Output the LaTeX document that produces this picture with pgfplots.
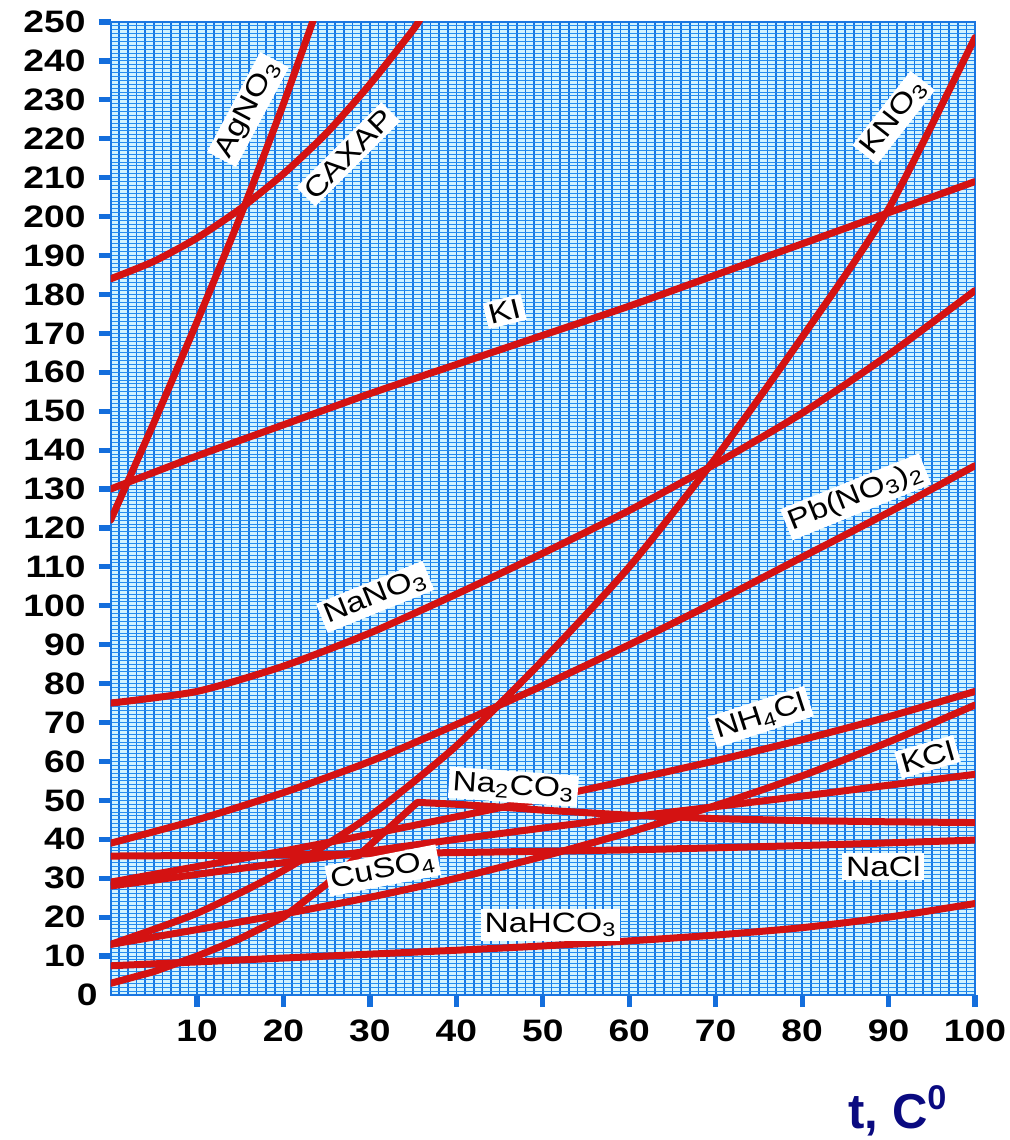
\documentclass[border=0pt]{standalone}
\usepackage{fontspec}
\setmainfont{Liberation Sans}
\usepackage{graphicx}
\usepackage{pgfplots}
\pgfplotsset{compat=1.18}

\definecolor{gridblue}{RGB}{25,118,225}
\definecolor{gridblue2}{RGB}{35,140,240}
\definecolor{paper}{RGB}{210,243,255}
\definecolor{curve}{RGB}{212,18,18}
\definecolor{tickblue}{RGB}{20,110,220}
\definecolor{navy}{RGB}{10,10,128}

\tikzset{lbl/.style={fill=white, inner sep=1.8pt, font=\fontsize{14}{16}\selectfont, text=black}}

\begin{document}
\begin{tikzpicture}
\begin{axis}[
  at={(0,0)}, anchor=south west,
  scale only axis, width=432.2pt, height=486.5pt,
  xmin=0, xmax=100, ymin=0, ymax=250,
  xtick={10,20,...,100}, ytick={10,20,...,250},
  xtick pos=bottom, ytick pos=left,
  extra y ticks={0}, extra y tick style={major tick length=0pt, grid=none},
  minor xtick={0,1,...,100}, minor ytick={0,1,...,250},
  grid=both,
  major x grid style={gridblue, line width=0.85pt},
  major y grid style={gridblue2, line width=0.5pt},
  minor x grid style={gridblue, line width=0.85pt},
  minor y grid style={gridblue2, line width=0.5pt},
  axis background/.style={fill=paper},
  tick align=outside, major tick length=6pt, minor tick length=0pt,
  every tick/.style={tickblue, line width=2.6pt},
  axis line style={gridblue, line width=1pt},
  /pgf/number format/assume math mode=true,
  ticklabel style={font=\fontsize{15.5}{18}\selectfont\bfseries, text=black},
  yticklabel={\scalebox{1.2}[1]{\pgfmathprintnumber{\tick}}},
  xticklabel={\scalebox{1.2}[1]{\pgfmathprintnumber{\tick}}},
  yticklabel style={xshift=-3pt},
  xticklabel style={yshift=-3pt},
  clip=true,
  cycle list={{curve, mark=none}},
  every axis plot post/.append style={curve, mark=none, line width=3.5pt, line cap=round, line join=round},
]
% AgNO3
\addplot+[smooth, tension=0.4] coordinates {(0,122) (5,147) (10,173) (15,200) (20,229) (24,254)};
% Sugar
\addplot+[smooth, tension=0.4] coordinates {(0,184) (5,188.5) (10,194.5) (15,202) (20,211) (25,221.5) (30,234) (35,248) (36,251.5)};
% KI
\addplot+[smooth, tension=0.4] coordinates {(0,130) (10,138.5) (20,146.5) (30,154.5) (40,162) (50,169.5) (60,177) (70,185) (80,193) (90,201) (100,209)};
% KNO3
\addplot+[smooth, tension=0.4] coordinates {(0,13) (10,21) (20,32) (30,46) (40,64) (50,86) (60,110) (70,138) (80,169) (90,202) (100,246)};
% NaNO3
\addplot+[smooth, tension=0.4] coordinates {(0,75) (10,78) (20,84.5) (30,93) (40,103) (50,113.5) (60,124.5) (70,136.5) (80,149.5) (90,164.5) (100,181)};
% Pb(NO3)2
\addplot+[smooth, tension=0.4] coordinates {(0,39) (10,45) (20,52) (30,60) (40,69.5) (50,79.5) (60,90) (70,101) (80,112.5) (90,124) (100,136)};
% NH4Cl
\addplot+[smooth, tension=0.4] coordinates {(0,29) (10,33) (20,37) (30,41.3) (40,45.8) (50,50.4) (60,55.2) (70,60.2) (80,65.6) (90,71.5) (100,78)};
% KCl
\addplot+[smooth, tension=0.4] coordinates {(0,28) (10,31) (20,34) (30,37) (40,40) (50,42.9) (60,45.7) (70,48.4) (80,51.1) (90,53.9) (100,56.7)};
% CuSO4
\addplot+[smooth, tension=0.4] coordinates {(0,13) (10,16.8) (20,20.8) (30,25.1) (40,30) (50,35.6) (60,41.8) (70,48.7) (80,56.3) (90,65) (100,74.5)};
% Na2CO3
\addplot+[sharp plot] coordinates {(0,3) (5,6) (10,10) (15,14.5) (20,20) (25,28.5) (30,38.5) (35.5,49.5) (40,49) (45,48.3) (50,47.5) (60,46.2) (70,45.3) (80,44.8) (90,44.5) (100,44.3)};
% NaCl
\addplot+[smooth, tension=0.4] coordinates {(0,35.7) (20,36) (40,36.6) (60,37.3) (80,38.4) (100,39.8)};
% NaHCO3
\addplot+[smooth, tension=0.4] coordinates {(0,7.5) (10,8.5) (20,9.5) (30,10.5) (40,11.5) (50,12.6) (60,13.9) (70,15.4) (80,17.3) (90,20) (100,23.5)};

\node[lbl, rotate=62] at (axis cs:15.9,227.5) {\scalebox{1.2}[1]{AgNO\textsubscript{3}}};
\node[lbl, rotate=45] at (axis cs:27.5,216) {\scalebox{1.2}[1]{САХАР}};
\node[lbl, rotate=52] at (axis cs:90.6,225.4) {\scalebox{1.2}[1]{KNO\textsubscript{3}}};
\node[lbl, rotate=14] at (axis cs:45.6,175.6) {\scalebox{1.2}[1]{KI}};
\node[lbl, rotate=22] at (axis cs:30.6,102.3) {\scalebox{1.2}[1]{NaNO\textsubscript{3}}};
\node[lbl, rotate=22] at (axis cs:86.2,128) {\scalebox{1.2}[1]{Pb(NO\textsubscript{3})\textsubscript{2}}};
\node[lbl, rotate=18] at (axis cs:75.2,71.5) {\scalebox{1.2}[1]{NH\textsubscript{4}Cl}};
\node[lbl, rotate=-4] at (axis cs:46.6,53.5) {\scalebox{1.2}[1]{Na\textsubscript{2}CO\textsubscript{3}}};
\node[lbl, rotate=16] at (axis cs:94.5,61.2) {\scalebox{1.2}[1]{KCl}};
\node[lbl, rotate=11] at (axis cs:31.5,32) {\scalebox{1.2}[1]{CuSO\textsubscript{4}}};
\node[lbl] at (axis cs:89.4,33) {\scalebox{1.2}[1]{NaCl}};
\node[lbl] at (axis cs:50.9,18) {\scalebox{1.2}[1]{NaHCO\textsubscript{3}}};
\end{axis}
\node[anchor=base, text=navy, font=\fontsize{24.5}{28}\selectfont\bfseries, inner sep=0pt] at (393.7pt,-66.5pt) {t, C\textsuperscript{0}};
\pgfresetboundingbox
\path[use as bounding box] (-55.3pt,-72.5pt) rectangle (449.2pt,497.5pt);
\end{tikzpicture}
\end{document}
